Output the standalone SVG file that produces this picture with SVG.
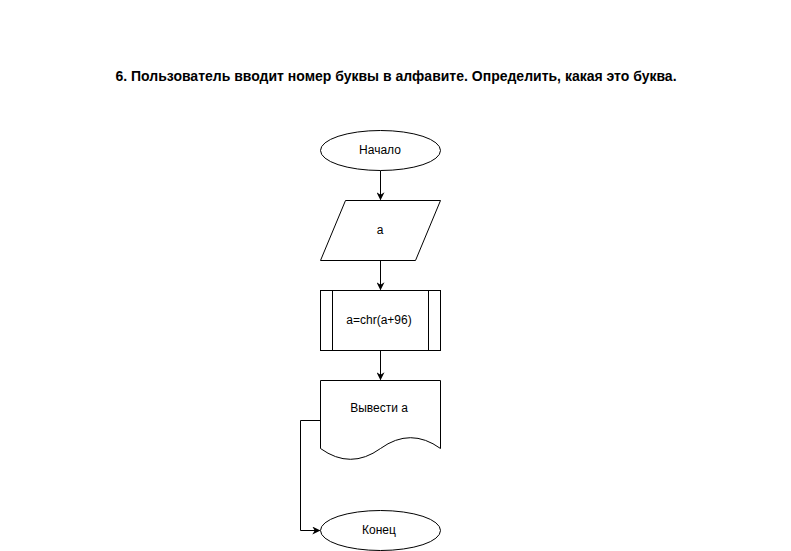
<svg xmlns="http://www.w3.org/2000/svg" width="791" height="551" viewBox="0 0 791 551">
<defs>
<style>
.s{fill:#fff;stroke:#000;stroke-width:1}
.t{font-family:"Liberation Sans",Arial,sans-serif;font-size:12px;fill:#000;text-anchor:middle}
.c{fill:none;stroke:#000;stroke-width:1}
</style>
<marker id="a" viewBox="0 0 10 10" refX="9" refY="5" markerWidth="8" markerHeight="8" markerUnits="userSpaceOnUse" orient="auto">
<path d="M0,0 L10,5 L0,10 L3,5 Z" fill="#000"/>
</marker>
</defs>
<rect width="791" height="551" fill="#fff"/>
<text x="396" y="81" style="font-family:'Liberation Sans',Arial,sans-serif;font-size:14px;font-weight:bold;text-anchor:middle">6. Пользователь вводит номер буквы в алфавите. Определить, какая это буква.</text>
<g transform="translate(0.5,0.5)">
<g id="connectors">
<path class="c" d="M380,170 V199" marker-end="url(#a)"/>
<path class="c" d="M380,260 V289" marker-end="url(#a)"/>
<path class="c" d="M380,350 V379" marker-end="url(#a)"/>
<path class="c" d="M320,420 H300 V530 H319" marker-end="url(#a)"/>
</g>
<g id="start">
<ellipse class="s" cx="380" cy="150" rx="60" ry="20"/>
<text class="t" x="379.5" y="153.5">Начало</text>
</g>
<g id="input">
<path class="s" d="M345,200 H440 L415,260 H320 Z"/>
<text class="t" x="379.5" y="233.5">a</text>
</g>
<g id="process">
<rect class="s" x="320" y="290" width="120" height="60"/>
<path class="c" d="M332,290 V350 M428,290 V350"/>
<text class="t" x="378.5" y="323.5">a=chr(a+96)</text>
</g>
<g id="output">
<path class="s" d="M320,380 H440 V448 Q410,426.4 380,448 T320,448 Z"/>
<text class="t" x="378.5" y="411.5">Вывести а</text>
</g>
<g id="end">
<ellipse class="s" cx="380" cy="530" rx="60" ry="20"/>
<text class="t" x="378.5" y="533.5">Конец</text>
</g>
</g>
</svg>
